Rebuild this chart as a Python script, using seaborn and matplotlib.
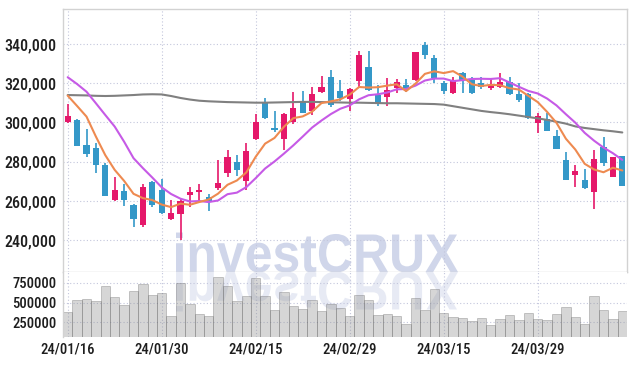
import os
import pandas as pd
import seaborn as sns
import matplotlib
matplotlib.use("Agg")
import matplotlib.pyplot as plt
from matplotlib import font_manager
from matplotlib.textpath import TextPath
from matplotlib.patches import PathPatch
from matplotlib.font_manager import FontProperties
from matplotlib.transforms import Affine2D
from matplotlib.ticker import FuncFormatter

# daily candles, prices in thousand won (60 trading days from 24/01/16)
opens = [300.0, 301.3, 288.6, 287.0, 278.4, 260.5, 265.1, 258.0, 247.8, 269.7,
         265.6, 250.9, 253.2, 263.1, 264.6, 262.1, 266.8, 274.4, 279.7, 270.1,
         291.8, 310.1, 297.2, 291.8, 300.4, 310.6, 305.9, 315.6, 323.2, 316.1,
         312.2, 321.3, 328.3, 313.9, 313.2, 317.8, 319.0, 321.7, 339.5, 332.9,
         320.0, 315.2, 325.1, 321.7, 320.3, 317.8, 318.3, 320.7, 314.7, 314.4,
         299.9, 301.8, 293.1, 280.6, 273.3, 270.7, 264.3, 287.4, 272.4, 283.0]
highs = [309.3, 301.8, 296.6, 289.7, 279.2, 272.1, 268.7, 258.5, 268.7, 270.0,
         271.1, 260.5, 261.4, 267.3, 268.7, 263.4, 280.9, 285.7, 283.5, 289.4,
         304.2, 312.4, 305.7, 304.6, 315.4, 315.9, 318.0, 323.6, 326.6, 321.5,
         317.5, 336.3, 336.3, 319.0, 322.6, 322.0, 322.0, 336.2, 341.1, 334.4,
         321.3, 323.4, 325.9, 323.1, 323.4, 322.6, 325.1, 323.4, 320.3, 314.9,
         305.0, 304.7, 296.2, 285.1, 278.4, 276.2, 285.7, 292.5, 282.5, 283.1]
lows = [299.5, 288.2, 282.6, 274.1, 262.4, 259.7, 257.5, 246.6, 246.9, 257.1,
        253.5, 250.0, 240.2, 256.8, 258.9, 254.6, 265.6, 272.1, 272.9, 265.6,
        291.1, 301.7, 295.3, 286.0, 299.1, 304.6, 303.9, 314.9, 308.1, 311.0,
        305.9, 318.3, 316.1, 308.3, 308.3, 314.9, 315.4, 321.4, 332.2, 320.3,
        314.6, 314.6, 315.2, 314.4, 316.9, 316.6, 317.5, 314.0, 310.6, 301.7,
        294.5, 295.5, 286.3, 270.5, 267.3, 266.3, 255.8, 277.9, 272.2, 267.6]
closes = [303.3, 288.2, 284.0, 278.4, 262.6, 265.6, 260.5, 250.9, 267.2, 258.0,
          253.9, 253.8, 259.9, 264.5, 265.1, 260.0, 269.0, 282.3, 275.8, 285.5,
          300.1, 302.5, 296.4, 304.4, 307.4, 304.9, 314.6, 318.1, 308.9, 312.4,
          316.9, 334.4, 316.6, 309.5, 316.6, 320.5, 316.6, 336.0, 334.3, 322.9,
          316.2, 321.7, 321.7, 315.2, 318.3, 319.0, 320.7, 314.4, 311.5, 302.2,
          303.3, 295.7, 286.5, 270.7, 275.0, 266.5, 281.4, 279.5, 282.3, 267.8]

# moving averages as drawn (5 / 10 / long)
ma5 = [313.7, 308.4, 303.0, 292.8, 283.3, 275.8, 270.2, 263.6, 261.4, 260.4,
       258.1, 256.8, 258.6, 258.0, 259.4, 260.7, 263.7, 268.2, 270.4, 274.5,
       282.5, 289.2, 292.1, 297.8, 302.2, 303.1, 305.5, 309.9, 310.8, 311.8,
       314.2, 318.1, 317.8, 318.0, 318.8, 319.5, 316.0, 319.8, 324.8, 326.1,
       325.2, 326.2, 323.4, 319.5, 318.6, 319.2, 319.0, 317.5, 316.8, 313.6,
       310.4, 305.4, 299.8, 291.7, 286.2, 278.9, 276.0, 274.6, 276.9, 275.5]
ma10 = [323.1, 319.6, 315.7, 309.8, 303.8, 297.9, 290.2, 281.8, 276.7, 271.9,
        266.9, 263.5, 261.1, 259.7, 259.9, 259.4, 260.2, 263.4, 264.2, 267.0,
        271.6, 276.5, 280.1, 284.1, 288.3, 292.8, 297.4, 301.0, 304.3, 307.0,
        308.7, 311.8, 313.9, 314.4, 315.3, 316.9, 317.1, 318.8, 321.4, 322.4,
        322.4, 321.1, 321.6, 322.2, 322.3, 322.2, 322.6, 320.4, 318.2, 316.1,
        314.8, 312.2, 308.7, 304.2, 299.9, 294.7, 290.7, 287.2, 284.3, 280.9]
ma_long = [314.0, 313.9, 313.8, 313.6, 313.5, 313.6, 313.8, 314.0, 314.3, 314.4,
           314.3, 313.5, 312.5, 311.7, 311.1, 310.8, 310.6, 310.4, 310.3, 310.2,
           310.1, 310.1, 310.2, 310.3, 310.4, 310.5, 310.5, 310.4, 310.3, 310.2,
           310.1, 310.1, 310.0, 309.9, 309.8, 309.8, 309.7, 309.6, 309.5, 309.4,
           309.1, 308.3, 307.5, 306.7, 305.9, 305.3, 304.8, 304.2, 303.5, 302.8,
           302.1, 301.3, 300.4, 299.4, 298.0, 297.2, 296.6, 296.0, 295.5, 294.9]

# volume in thousand shares
volume = [378, 532, 545, 519, 711, 570, 472, 647, 737, 600,
          622, 327, 750, 481, 353, 327, 827, 711, 519, 583,
          814, 583, 404, 635, 455, 412, 532, 391, 481, 429,
          327, 600, 532, 340, 353, 327, 224, 558, 404, 673,
          365, 314, 301, 263, 301, 211, 288, 340, 275, 365,
          288, 275, 353, 442, 314, 224, 583, 404, 288, 391]

date_labels = ["24/01/16", "24/01/30", "24/02/15", "24/02/29", "24/03/15", "24/03/29"]
price_ticks = [240000, 260000, 280000, 300000, 320000, 340000]
vol_ticks = [250000, 500000, 750000]

UP = "#e5186a"
DOWN = "#3498c8"
GRID = "#c3c6dc"
SPINE = "#d2d2d2"


def pick_narrow_font():
    # the axis labels use a narrow face; take the first one that is really there
    for fam, stretch in [("Liberation Sans Narrow", "normal"), ("Roboto Condensed", "normal"),
                         ("DejaVu Sans", "condensed"), ("Open Sans", "condensed")]:
        try:
            path = font_manager.findfont(FontProperties(family=fam, stretch=stretch),
                                         fallback_to_default=False)
        except Exception:
            continue
        name = os.path.basename(path).lower()
        if stretch == "normal" or "condens" in name or "narrow" in name:
            return fam, stretch, 1.0
    return "Roboto", "normal", 0.9


df = pd.DataFrame({"open": opens, "high": highs, "low": lows, "close": closes,
                   "ma5": ma5, "ma10": ma10, "ma_long": ma_long, "volume": volume})
df[["open", "high", "low", "close", "ma5", "ma10", "ma_long"]] *= 1000
df["volume"] *= 1000
df["idx"] = range(len(df))
df["up"] = df["close"] >= df["open"]
df["color"] = df["up"].map({True: UP, False: DOWN})
df["body_lo"] = df[["open", "close"]].min(axis=1)
df["body_h"] = (df["close"] - df["open"]).abs().clip(lower=700)

sns.set_theme(style="white")
fam, stretch, k = pick_narrow_font()
plt.rcParams['font.family'] = [fam, 'DejaVu Sans']
plt.rcParams['font.stretch'] = stretch
plt.rcParams['font.weight'] = 'medium'

W, H = 637, 366
fig = plt.figure(figsize=(W / 100, H / 100), dpi=100)
ax = fig.add_axes([63 / W, 1 - 272 / H, 564 / W, 263 / H])
axv = fig.add_axes([63 / W, 1 - 337 / H, 564 / W, 65 / H])

# candles
ax.vlines(df["idx"], df["low"], df["high"], colors=df["color"], lw=1.2, zorder=2)
ax.bar(df["idx"], df["body_h"], bottom=df["body_lo"], width=0.68,
       color=df["color"], linewidth=0, zorder=2)

sns.lineplot(data=df, x="idx", y="ma_long", ax=ax, color="#808080", lw=1.5, zorder=3)
sns.lineplot(data=df, x="idx", y="ma10", ax=ax, color="#c65ae6", lw=1.5, zorder=3)
sns.lineplot(data=df, x="idx", y="ma5", ax=ax, color="#ee8a50", lw=1.5, zorder=3)

sns.barplot(data=df, x="idx", y="volume", ax=axv, color="#8f8f8f", alpha=0.36,
            width=1.0, edgecolor="#5e5e5e", linewidth=0.6, saturation=1, zorder=2)

for a in (ax, axv):
    a.set_xlim(-0.5, len(df) - 0.5)
    a.set_xticks(range(0, len(df), 10))
    a.grid(True, color=GRID, linestyle=(0, (1, 2)), lw=0.8)
    a.set_xlabel("")
    a.set_ylabel("")
    a.tick_params(length=0, colors="#1e1e1e")
    for s in a.spines.values():
        s.set_color(SPINE)
        s.set_linewidth(1)

ax.set_ylim(223700, 357900)
ax.set_yticks(price_ticks)
ax.yaxis.set_major_formatter(FuncFormatter(lambda v, _: f"{v:,.0f}"))
ax.tick_params(axis="y", labelsize=11.5 * k, pad=4.5)
ax.tick_params(axis="x", labelbottom=False)

axv.set_ylim(60000, 890000)
axv.set_yticks(vol_ticks)
axv.yaxis.set_major_formatter(FuncFormatter(lambda v, _: f"{v:.0f}"))
axv.set_xticklabels(date_labels)
axv.tick_params(axis="y", labelsize=10.5 * k, pad=4.5)
axv.tick_params(axis="x", labelsize=10.5 * k, pad=4)
axv.spines["top"].set_visible(False)
axv.spines["right"].set_visible(False)
axv.spines["bottom"].set_visible(False)

# watermark with mirrored reflection, in pixel coordinates
tp = TextPath((0, 0), "investCRUX", size=100,
              prop=FontProperties(family="Liberation Sans", weight="bold"))
bb = tp.get_extents()
sx = (458 - 176) / bb.width
sy = 40 / bb.height
x0, base = 176, H - 272
mark = PathPatch(tp, transform=Affine2D().translate(-bb.x0, 0).scale(sx, sy).translate(x0, base),
                 facecolor="#d0d6ea", edgecolor="none", zorder=0.3)
ax.add_artist(mark)
refl = PathPatch(tp, transform=Affine2D().translate(-bb.x0, 0).scale(sx, -sy).translate(x0, base),
                 facecolor="#d0d6ea", edgecolor="none", alpha=0.5, zorder=0.3)
axv.add_artist(refl)

fig.savefig("out.png", dpi=100)
